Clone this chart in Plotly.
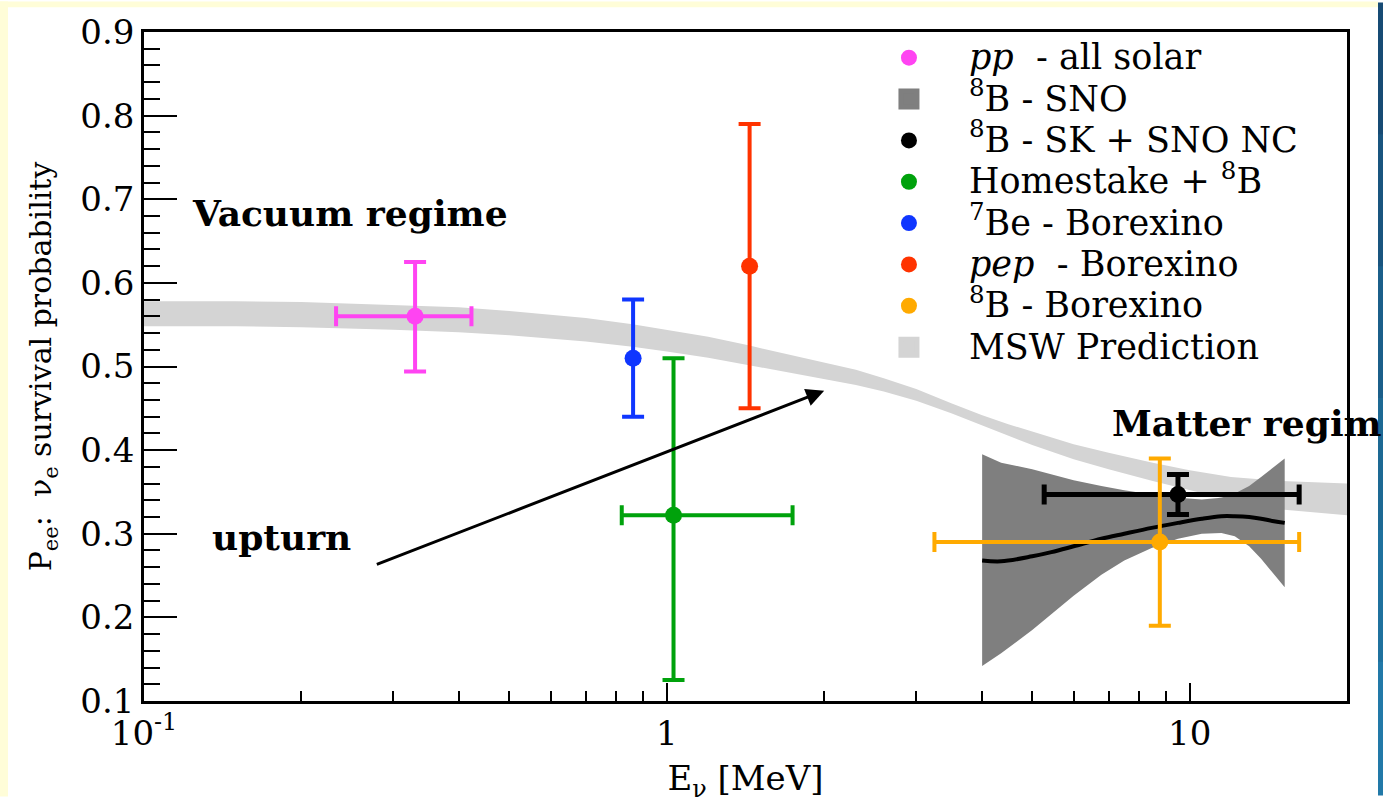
import math
import plotly.graph_objects as go

# ---------------- data ----------------
# MSW prediction band (lower / upper edge)
msw_x = [0.1, 0.15, 0.2, 0.3, 0.4, 0.5, 0.7, 0.86, 1.0, 1.2, 1.44, 1.7, 2.0, 2.3, 2.6,
         3.0, 3.5, 4.0, 4.5, 5.0, 6.0, 7.0, 8.5, 10, 12, 15, 20]
msw_lo = [0.548, 0.548, 0.547, 0.544, 0.541, 0.5375, 0.530, 0.5235, 0.518, 0.5105, 0.501, 0.493,
          0.485, 0.478, 0.470, 0.459, 0.444, 0.430, 0.417, 0.406, 0.389, 0.377, 0.363, 0.352,
          0.340, 0.329, 0.322]
msw_hi = [0.578, 0.578, 0.577, 0.574, 0.571, 0.5665, 0.558, 0.5505, 0.544, 0.5355, 0.525, 0.515,
          0.505, 0.496, 0.486, 0.473, 0.456, 0.442, 0.431, 0.422, 0.407, 0.397, 0.385, 0.376,
          0.368, 0.363, 0.360]

# 8B SNO band and its central curve
sno_x = [4.01, 4.36, 5.0, 5.44, 6.0, 6.78, 7.5, 8.46, 9.5, 10.55, 11.5, 12.2, 13.0, 13.7, 14.5, 15.2]
sno_lo = [0.142, 0.157, 0.185, 0.204, 0.226, 0.251, 0.268, 0.283, 0.294, 0.300, 0.301, 0.297,
          0.285, 0.270, 0.252, 0.236]
sno_hi = [0.395, 0.385, 0.377, 0.371, 0.364, 0.357, 0.352, 0.347, 0.343, 0.341, 0.343, 0.348,
          0.357, 0.368, 0.380, 0.390]
sno_c = [0.268, 0.267, 0.273, 0.278, 0.285, 0.294, 0.300, 0.307, 0.313, 0.318, 0.321, 0.321,
         0.320, 0.318, 0.315, 0.313]

# measured points
pt_names = ["<i>pp</i>  - all solar", "<sup>8</sup>B - SK + SNO NC", "Homestake + <sup>8</sup>B",
            "<sup>7</sup>Be - Borexino", "<i>pep</i>  - Borexino", "<sup>8</sup>B - Borexino"]
pt_colors = ["#ff44f2", "#000000", "#00a20c", "#0f36ff", "#ff3300", "#ffaa00"]
pt_x = [0.33, 9.5, 1.03, 0.862, 1.44, 8.77]
pt_y = [0.56, 0.347, 0.322, 0.51, 0.62, 0.29]
pt_ey_plus = [0.065, 0.024, 0.188, 0.07, 0.17, 0.10]
pt_ey_minus = [0.066, 0.024, 0.197, 0.07, 0.17, 0.10]
pt_ex_plus = [0.093, 6.7, 0.71, None, None, 7.43]
pt_ex_minus = [0.097, 4.23, 0.21, None, None, 5.52]
pt_rank = [1, 3, 4, 5, 6, 7]

band_names = ["<sup>8</sup>B - SNO", "MSW Prediction"]

x_tickvals = [0.1, 1, 10]
x_ticktext = ["10<sup>-1</sup>", "1", "10"]

# arrow ("upturn") tail and head
arrow_tail = (0.277, 0.2626)
arrow_head = (2.0, 0.471)

# ---------------- figure ----------------
FONT = "DejaVu Serif"
W, H = 1383, 803
ML, MR, MT, MB = 144, 36, 29, 95
PW, PH = W - ML - MR, H - MT - MB
SNO_GRAY, MSW_GRAY = "#7f7f7f", "#d4d4d4"


def leg(txt):
    return '<span style="font-size:35px">' + txt + '</span>'


fig = go.Figure()

fig.add_trace(go.Scatter(
    x=msw_x + msw_x[::-1], y=msw_hi + msw_lo[::-1], fill="toself",
    fillcolor=MSW_GRAY, line=dict(width=0), mode="lines",
    showlegend=False, hoverinfo="skip"))

fig.add_trace(go.Scatter(
    x=sno_x + sno_x[::-1], y=sno_hi + sno_lo[::-1], fill="toself",
    fillcolor=SNO_GRAY, line=dict(width=0), mode="lines",
    showlegend=False, hoverinfo="skip"))

fig.add_trace(go.Scatter(
    x=sno_x, y=sno_c, mode="lines", line=dict(color="black", width=4, shape="spline"),
    showlegend=False, hoverinfo="skip"))

# legend-only keys for the two bands
for nm, col, rk in zip(band_names, [SNO_GRAY, MSW_GRAY], [2, 8]):
    fig.add_trace(go.Scatter(
        x=[None], y=[None], mode="markers", name=leg(nm),
        marker=dict(symbol="square", size=16, color=col, line=dict(color=col, width=5)),
        legendrank=rk))

for i in range(len(pt_x)):
    th = 5 if pt_colors[i] == "#000000" else 4
    ex = None
    if pt_ex_plus[i] is not None:
        ex = dict(type="data", symmetric=False, array=[pt_ex_plus[i]],
                  arrayminus=[pt_ex_minus[i]], color=pt_colors[i], thickness=th, width=10)
    fig.add_trace(go.Scatter(
        x=[pt_x[i]], y=[pt_y[i]], mode="markers", name=leg(pt_names[i]),
        marker=dict(color=pt_colors[i], size=17),
        error_y=dict(type="data", symmetric=False, array=[pt_ey_plus[i]],
                     arrayminus=[pt_ey_minus[i]], color=pt_colors[i], thickness=th, width=11),
        error_x=ex, legendrank=pt_rank[i]))

fig.add_annotation(
    x=math.log10(arrow_head[0]), y=arrow_head[1],
    ax=math.log10(arrow_tail[0]), ay=arrow_tail[1],
    xref="x", yref="y", axref="x", ayref="y", text="",
    showarrow=True, arrowhead=2, arrowsize=1.2, arrowwidth=3, arrowcolor="black")

bold = dict(family=FONT, size=36, color="black")
fig.add_annotation(x=math.log10(0.1225), y=0.684, xref="x", yref="y",
                   text="<b>Vacuum regime</b>", showarrow=False,
                   xanchor="left", yanchor="middle", font=bold)
fig.add_annotation(x=math.log10(7.05), y=0.432, xref="x", yref="y",
                   text="<b>Matter regim</b>", showarrow=False,
                   xanchor="left", yanchor="middle", font=bold)
fig.add_annotation(x=math.log10(0.134), y=0.296, xref="x", yref="y",
                   text="<b>upturn</b>", showarrow=False,
                   xanchor="left", yanchor="middle", font=bold)


# page decoration: yellow left/top strips, blue right strip
def px_x(p):
    return (p - ML) / PW


def px_y(p):
    return (H - MB - p) / PH


shapes = [
    dict(type="rect", xref="paper", yref="paper", x0=px_x(-2), x1=px_x(8),
         y0=px_y(H + 2), y1=px_y(-2), fillcolor="#fffdd8", line=dict(width=0)),
    dict(type="rect", xref="paper", yref="paper", x0=px_x(-2), x1=px_x(1378),
         y0=px_y(4), y1=px_y(-2), fillcolor="#fffdd8", line=dict(width=0)),
]
blues = ["#174b74", "#19557f", "#1b5f8a", "#1d6994", "#1f719e", "#2279a8"]
seg = H / len(blues)
for k, c in enumerate(blues):
    shapes.append(dict(type="rect", xref="paper", yref="paper",
                       x0=px_x(1378), x1=px_x(W + 2),
                       y0=px_y(seg * (k + 1) + 1), y1=px_y(seg * k - 1),
                       fillcolor=c, line=dict(width=0)))

fig.update_layout(
    width=W, height=H,
    margin=dict(l=ML, r=MR, t=MT, b=MB),
    paper_bgcolor="white", plot_bgcolor="white",
    font=dict(family=FONT, size=34, color="black"),
    shapes=shapes,
    showlegend=True,
    legend=dict(x=0.586, y=1.0, xanchor="left", yanchor="top",
                bgcolor="rgba(0,0,0,0)", borderwidth=0,
                font=dict(family=FONT, size=29.5, color="black"),
                itemwidth=110, tracegroupgap=0),
    xaxis=dict(type="log", range=[-1, math.log10(20)],
               tickmode="array", tickvals=x_tickvals, ticktext=x_ticktext,
               ticks="inside", ticklen=18, tickwidth=2, tickcolor="black",
               minor=dict(ticks="inside", ticklen=10, tickwidth=1.5,
                          tickcolor="black", dtick="D1"),
               showline=True, linecolor="black", linewidth=2.5, mirror=True,
               showgrid=False, zeroline=False,
               tickfont=dict(family=FONT, size=34),
               title=dict(text="E<sub>ν</sub> [MeV]", standoff=15,
                          font=dict(family=FONT, size=34))),
    yaxis=dict(range=[0.1, 0.9], dtick=0.1, tick0=0.1,
               ticks="inside", ticklen=33, tickwidth=2, tickcolor="black",
               minor=dict(ticks="inside", ticklen=16, tickwidth=1.5,
                          tickcolor="black", dtick=0.02),
               showline=True, linecolor="black", linewidth=2.5, mirror=True,
               showgrid=False, zeroline=False,
               tickfont=dict(family=FONT, size=34),
               title=dict(text="P<sub>ee</sub>:  ν<sub>e</sub> survival probability",
                          standoff=20, font=dict(family=FONT, size=30))),
)

fig.write_html("out.html", config={"displayModeBar": False},
               post_script="document.body.style.margin='0px';")
